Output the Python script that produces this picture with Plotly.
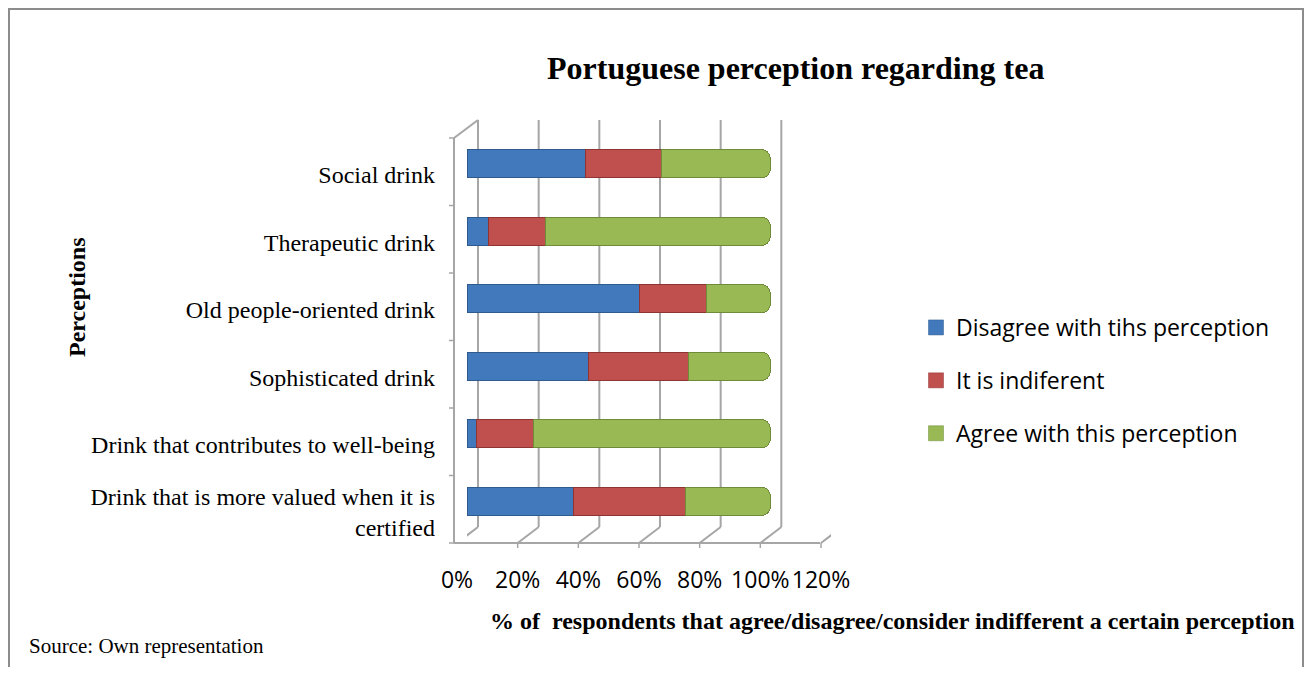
"""Portuguese perception regarding tea - stacked horizontal bar chart."""

import plotly.graph_objects as go

# ---------------------------------------------------------------------------
# Data
# ---------------------------------------------------------------------------

CATEGORIES = [
    "Social drink",
    "Therapeutic drink",
    "Old people-oriented drink",
    "Sophisticated drink",
    "Drink that contributes to well-being",
    "Drink that is more valued when it is<br>certified",
]
DISAGREE = [39, 7, 57, 40, 3, 35]
INDIFFERENT = [25, 19, 22, 33, 19, 37]
AGREE = [36, 74, 21, 27, 78, 28]

SERIES = [
    ("Disagree with tihs perception", DISAGREE),
    ("It is indiferent", INDIFFERENT),
    ("Agree with this perception", AGREE),
]
TICKS = [0, 20, 40, 60, 80, 100, 120]
TICK_TEXT = ["0%", "20%", "40%", "60%", "80%", "100%", "120%"]

_COLORS = ["#4279BD", "#C0504D", "#98B954"]
_EDGES = ["#2E5A8E", "#8E3432", "#6F8A38"]
_GRID = "#A6A6A6"

# page body has an 8px margin, so the figure is drawn 8px in and 16px smaller
OFF = 8
W, H = 1312 - 2 * OFF, 675 - 2 * OFF


def px(x):
    """Page pixel x -> paper fraction."""
    return (x - OFF) / W


def py(y):
    """Page pixel y -> paper fraction."""
    return 1 - (y - OFF) / H


fig = go.Figure()
for i, (name, vals) in enumerate(SERIES):
    fig.add_trace(
        go.Bar(
            y=CATEGORIES,
            x=vals,
            name=name,
            orientation="h",
            showlegend=False,
            marker={"color": _COLORS[i], "line": {"color": _EDGES[i], "width": 1}},
            hoverinfo="x+name",
        )
    )
# legend entries with square swatches (rounded bars would give round swatches)
for i, (name, _vals) in enumerate(SERIES):
    fig.add_trace(
        go.Scatter(
            x=[None],
            y=[None],
            mode="markers",
            name=name,
            legendgroup=name,
            marker={"symbol": "square", "size": 15, "color": _COLORS[i],
                    "line": {"color": _EDGES[i], "width": 0.5}},
        )
    )

# 3D-ish frame: back wall grid, floor and left wall
shapes = []
for v in TICKS:
    shapes.append(dict(type="line", xref="x", xsizemode="pixel", xanchor=v, x0=11, x1=11,
                       yref="paper", y0=py(527), y1=py(120), line={"color": _GRID, "width": 2},
                       layer="below"))
    shapes.append(dict(type="line", xref="x", xsizemode="pixel", xanchor=v, x0=-10, x1=11,
                       yref="paper", y0=py(543), y1=py(527), line={"color": _GRID, "width": 2},
                       layer="below"))
    shapes.append(dict(type="line", xref="x", xsizemode="pixel", xanchor=v, x0=-10, x1=-10,
                       yref="paper", y0=py(543), y1=py(548), line={"color": _GRID, "width": 1.5}))
shapes.append(dict(type="line", xref="paper", yref="paper", x0=px(454), x1=px(820),
                   y0=py(543), y1=py(543), line={"color": _GRID, "width": 2}))
shapes.append(dict(type="line", xref="paper", yref="paper", x0=px(454), x1=px(454),
                   y0=py(138), y1=py(543), line={"color": _GRID, "width": 2}))
shapes.append(dict(type="line", xref="paper", yref="paper", x0=px(454), x1=px(478),
                   y0=py(138), y1=py(120), line={"color": _GRID, "width": 2}))
for k in range(7):
    yk = 138 + 67.5 * k
    shapes.append(dict(type="line", xref="paper", yref="paper", x0=px(449), x1=px(454),
                       y0=py(yk), y1=py(yk), line={"color": _GRID, "width": 1.5}))
# outer border
shapes.append(dict(type="rect", xref="paper", yref="paper", x0=px(9), x1=px(1303),
                   y0=-0.05, y1=py(9), line={"color": "#8C8C8C", "width": 2}))

serif = "Liberation Serif, Times New Roman, serif"
annotations = [
    dict(text="<b>Portuguese perception regarding tea</b>", x=px(795), y=py(68),
         font={"family": serif, "size": 32, "color": "black"}),
    dict(text="<b>Perceptions</b>", x=px(77), y=py(297), textangle=-90,
         font={"family": serif, "size": 24, "color": "black"}),
    dict(text="<b>% of  respondents that agree/disagree/consider indifferent a certain perception</b>",
         x=px(892), y=py(621), font={"family": serif, "size": 24, "color": "black"}),
    dict(text="Source: Own representation", x=px(27), y=py(646), xanchor="left",
         font={"family": serif, "size": 21, "color": "black"}),
]
for a in annotations:
    a.update(xref="paper", yref="paper", showarrow=False, yanchor="middle")
    a.setdefault("xanchor", "center")

fig.update_layout(
    width=W,
    height=H,
    margin={"l": 0, "r": 0, "t": 0, "b": 0, "autoexpand": False},
    paper_bgcolor="white",
    plot_bgcolor="rgba(0,0,0,0)",
    barmode="stack",
    bargap=0.58,
    barcornerradius=9,
    showlegend=True,
    legend={
        "x": px(916), "y": py(306), "xanchor": "left", "yanchor": "top",
        "font": {"family": "Open Sans, sans-serif", "size": 23, "color": "black"},
        "tracegroupgap": 20, "traceorder": "grouped", "itemwidth": 30,
    },
    xaxis={
        "domain": [px(467), px(831)],
        "range": [0, 120],
        "tickvals": TICKS,
        "ticktext": TICK_TEXT,
        "showgrid": False,
        "zeroline": False,
        "showline": False,
        "ticks": "",
        "automargin": False,
        "ticklabelshift": -10,
        "ticklabelstandoff": 29,
        "tickfont": {"family": "Open Sans, sans-serif", "size": 23, "color": "black"},
    },
    yaxis={
        "domain": [py(535), py(130)],
        "autorange": "reversed",
        "showgrid": False,
        "showline": False,
        "ticks": "",
        "automargin": False,
        "ticklabelshift": -11,
        "ticklabelstandoff": 31,
        "tickfont": {"family": serif, "size": 24, "color": "black"},
    },
    shapes=shapes,
    annotations=annotations,
)

fig.write_html("out.html")
